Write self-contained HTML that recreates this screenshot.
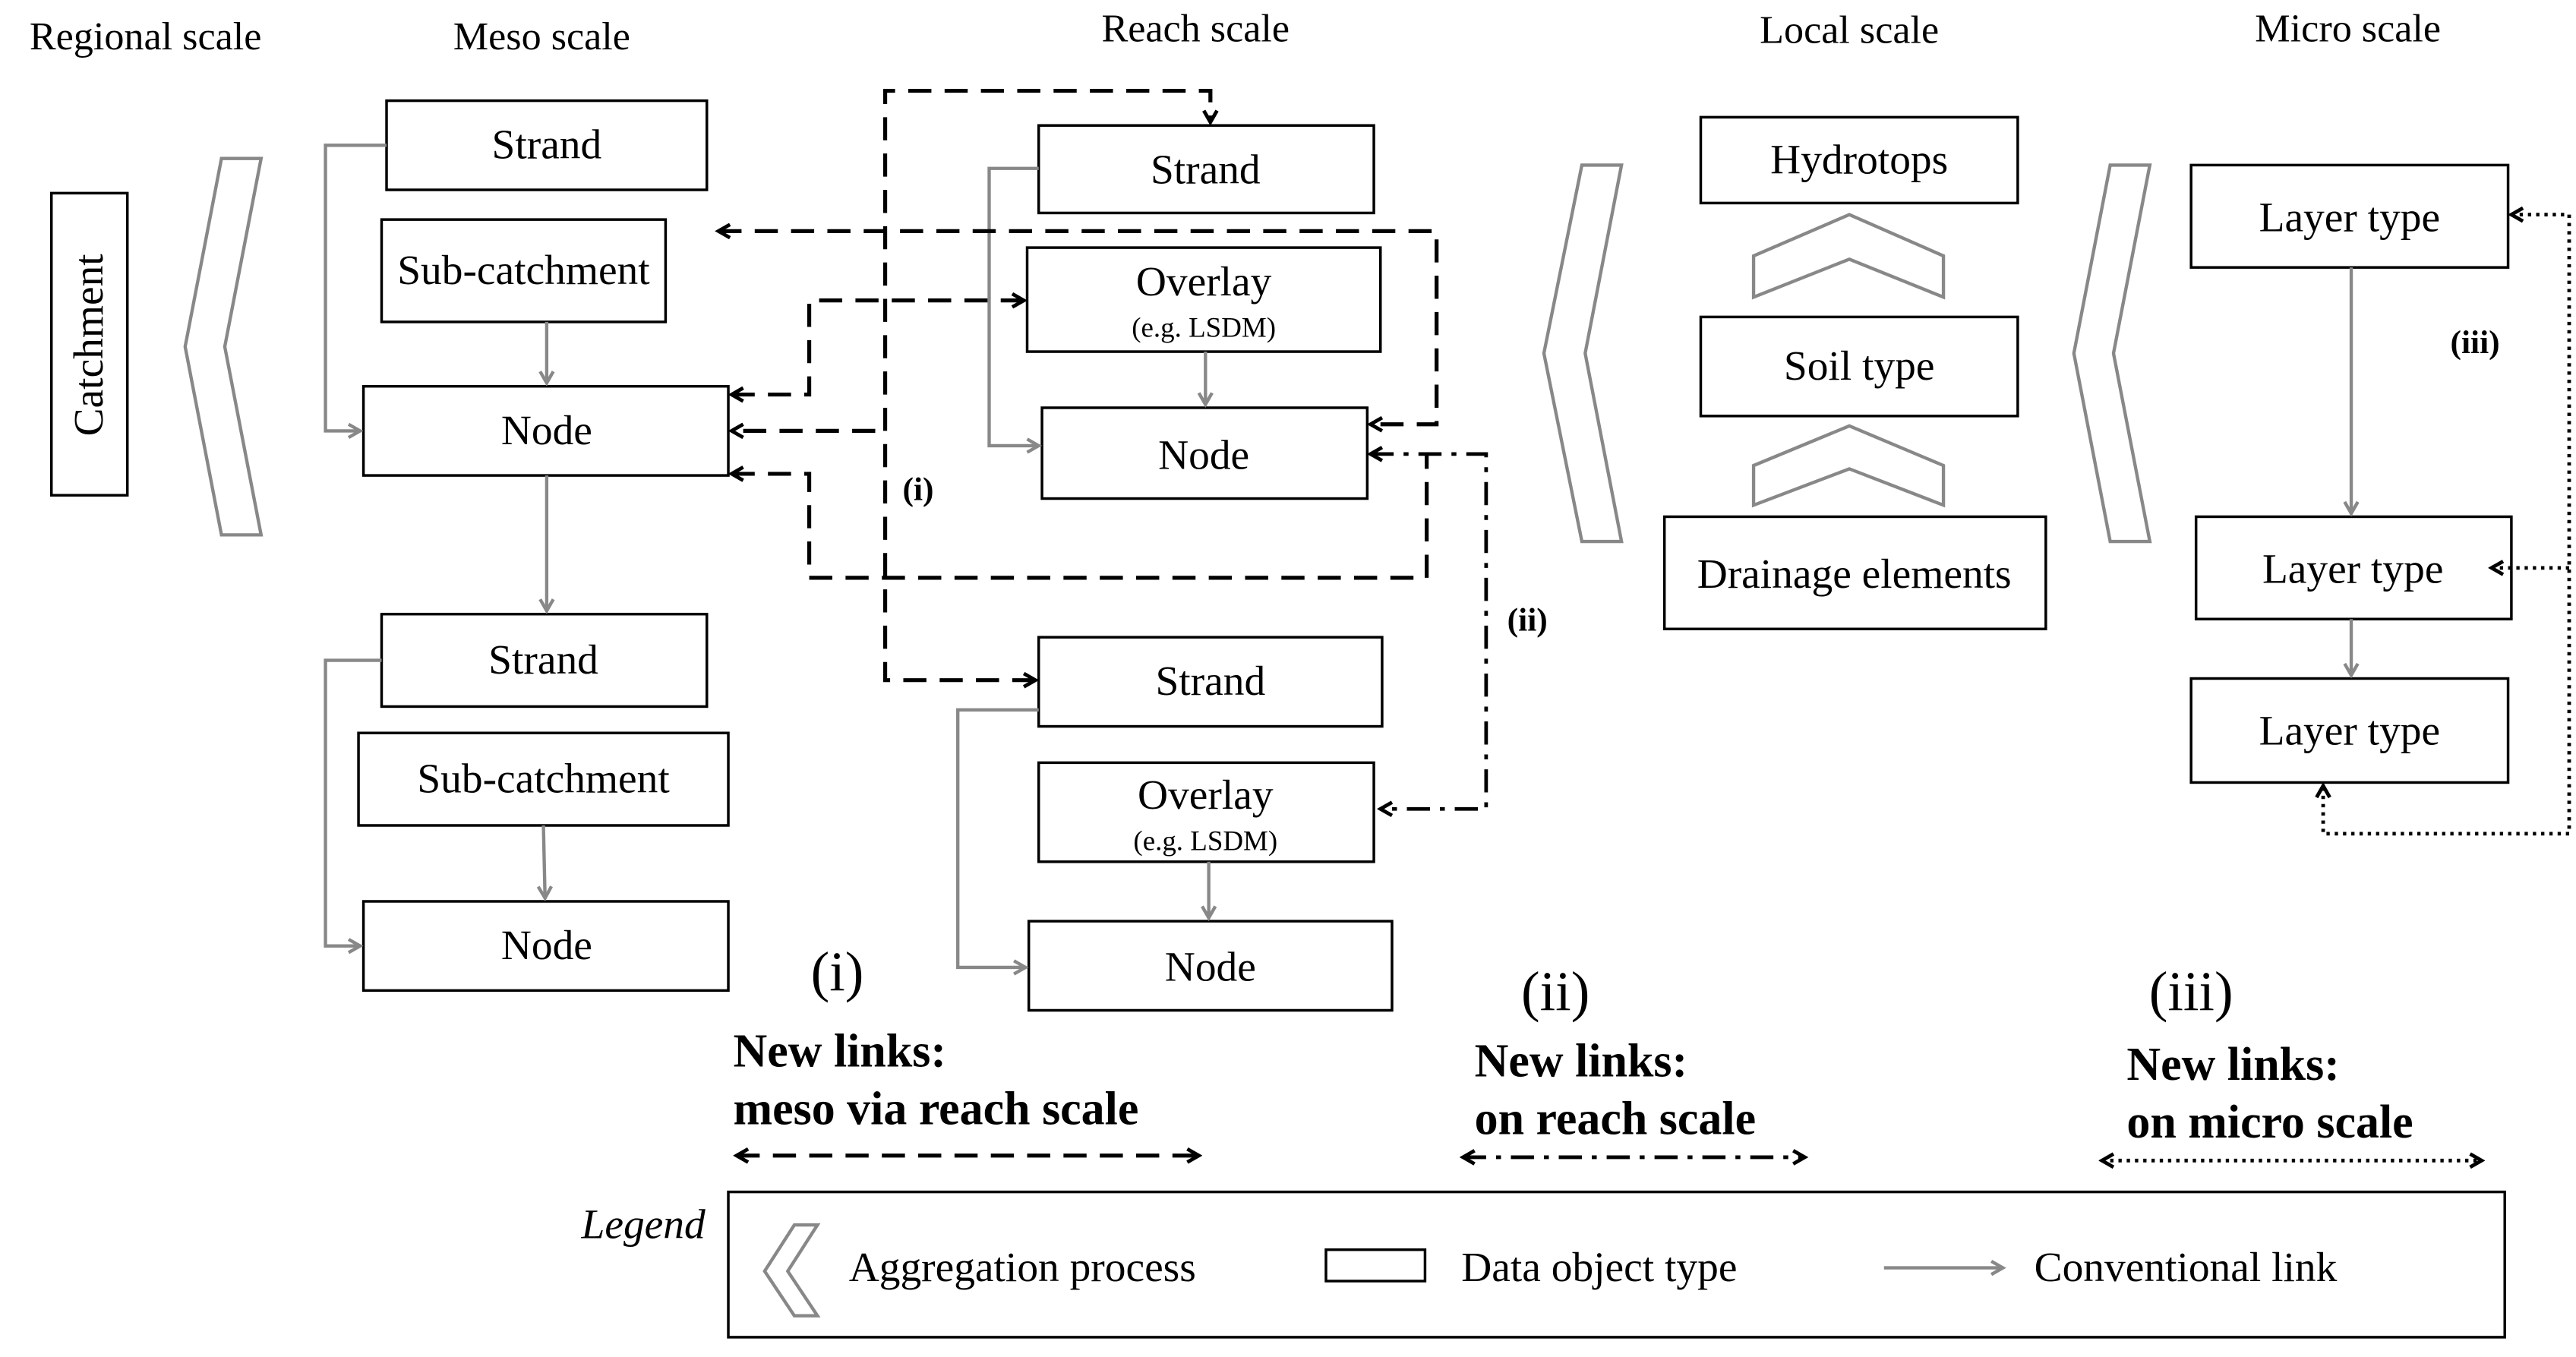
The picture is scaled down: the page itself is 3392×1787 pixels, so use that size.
<!DOCTYPE html>
<html><head><meta charset="utf-8"><style>html,body{margin:0;padding:0;background:#fff}svg{display:block}</style></head><body>
<svg width="3392" height="1787" viewBox="0 0 1560 822" xmlns="http://www.w3.org/2000/svg" font-family="'Liberation Serif', serif">
<defs>
<marker id="ag" markerWidth="10" markerHeight="10" refX="8" refY="5" orient="auto" markerUnits="userSpaceOnUse"><path d="M1,1 L8,5 L1,9" fill="none" stroke="#888" stroke-width="2"/></marker>
<marker id="ab" markerWidth="10" markerHeight="10" refX="8" refY="5" orient="auto-start-reverse" markerUnits="userSpaceOnUse"><path d="M1,1 L8,5 L1,9" fill="none" stroke="#000" stroke-width="2.2"/></marker>
</defs>
<rect width="1560" height="822" fill="#fff"/>
<g font-size="24" text-anchor="middle" fill="#000">
<text x="88" y="30">Regional scale</text>
<text x="328" y="30">Meso scale</text>
<text x="724" y="25">Reach scale</text>
<text x="1120" y="26">Local scale</text>
<text x="1422" y="25">Micro scale</text>
</g>
<g fill="#fff" stroke="#000" stroke-width="1.6">
<rect x="31" y="117" width="46" height="183"/>
<rect x="234" y="61" width="194" height="54"/>
<rect x="231" y="133" width="172" height="62"/>
<rect x="220" y="234" width="221" height="54"/>
<rect x="231" y="372" width="197" height="56"/>
<rect x="217" y="444" width="224" height="56"/>
<rect x="220" y="546" width="221" height="54"/>
<rect x="629" y="76" width="203" height="53"/>
<rect x="622" y="150" width="214" height="63"/>
<rect x="631" y="247" width="197" height="55"/>
<rect x="629" y="386" width="208" height="54"/>
<rect x="629" y="462" width="203" height="60"/>
<rect x="623" y="558" width="220" height="54"/>
<rect x="1030" y="71" width="192" height="52"/>
<rect x="1030" y="192" width="192" height="60"/>
<rect x="1008" y="313" width="231" height="68"/>
<rect x="1327" y="100" width="192" height="62"/>
<rect x="1330" y="313" width="191" height="62"/>
<rect x="1327" y="411" width="192" height="63"/>
<rect x="441" y="722" width="1076" height="88"/>
<rect x="803" y="757" width="60" height="19"/>
</g>
<g fill="#fff" stroke="#888" stroke-width="2">
<polygon points="134,96 158,96 136,210 158,324 134,324 112,210"/>
<polygon points="958,100 982,100 960,214 982,328 958,328 935,214"/>
<polygon points="1278,100 1302,100 1280,214 1302,328 1278,328 1256,214"/>
<polygon points="1062,155 1120,130 1177,155 1177,180 1120,157 1062,180"/>
<polygon points="1062,282 1120,258 1177,282 1177,306 1120,284 1062,306"/>
<polygon points="481,742 495,742 477,770 495,797 481,797 463,770"/>
</g>
<g fill="none" stroke="#888" stroke-width="2">
<path d="M234,88 H197 V261 H218" marker-end="url(#ag)"/>
<path d="M331,195 V232" marker-end="url(#ag)"/>
<path d="M331,288 V370" marker-end="url(#ag)"/>
<path d="M231,400 H197 V573 H218" marker-end="url(#ag)"/>
<path d="M329,500 L330,544" marker-end="url(#ag)"/>
<path d="M629,102 H599 V270 H629" marker-end="url(#ag)"/>
<path d="M730,213 V245" marker-end="url(#ag)"/>
<path d="M629,430 H580 V586 H621" marker-end="url(#ag)"/>
<path d="M732,522 V556" marker-end="url(#ag)"/>
<path d="M1424,162 V311" marker-end="url(#ag)"/>
<path d="M1424,375 V409" marker-end="url(#ag)"/>
<path d="M1141,768 H1213" marker-end="url(#ag)"/>
</g>
<g fill="none" stroke="#000" stroke-width="2.4" stroke-dasharray="14,8">
<path d="M627,412 H536 V55 H733 V74" marker-start="url(#ab)" marker-end="url(#ab)"/>
<path d="M530,261 H443" marker-end="url(#ab)"/>
<path d="M443,239 H490 V182 H620" marker-start="url(#ab)" marker-end="url(#ab)"/>
<path d="M435,140 H870 V257 H830" marker-start="url(#ab)" marker-end="url(#ab)"/>
<path d="M443,287 H490 V350 H864 V275"  marker-start="url(#ab)"/>
<path d="M446,700 H726" marker-start="url(#ab)" marker-end="url(#ab)"/>
</g>
<g fill="none" stroke="#000" stroke-width="2.2" stroke-dasharray="14,6,3,6">
<path d="M830,275 H900 V490 H836" marker-start="url(#ab)" marker-end="url(#ab)"/>
<path d="M886,701 H1093" marker-start="url(#ab)" marker-end="url(#ab)"/>
</g>
<g fill="none" stroke="#000" stroke-width="2.2" stroke-dasharray="2,3">
<path d="M1521,130 H1556 V505 H1407 V476" marker-start="url(#ab)" marker-end="url(#ab)"/>
<path d="M1509,344 H1556" marker-start="url(#ab)"/>
<path d="M1273,703 H1503" marker-start="url(#ab)" marker-end="url(#ab)"/>
</g>
<g font-size="25.5" text-anchor="middle" fill="#000">
<text transform="translate(62,209) rotate(-90)">Catchment</text>
<text x="331" y="96">Strand</text>
<text x="317" y="172">Sub-catchment</text>
<text x="331" y="269">Node</text>
<text x="329" y="408">Strand</text>
<text x="329" y="480">Sub-catchment</text>
<text x="331" y="581">Node</text>
<text x="730" y="111">Strand</text>
<text x="729" y="179">Overlay</text>
<text x="729" y="204" font-size="17">(e.g. LSDM)</text>
<text x="729" y="284">Node</text>
<text x="733" y="421">Strand</text>
<text x="730" y="490">Overlay</text>
<text x="730" y="515" font-size="17">(e.g. LSDM)</text>
<text x="733" y="594">Node</text>
<text x="1126" y="105">Hydrotops</text>
<text x="1126" y="230">Soil type</text>
<text x="1123" y="356">Drainage elements</text>
<text x="1423" y="140">Layer type</text>
<text x="1425" y="353">Layer type</text>
<text x="1423" y="451">Layer type</text>
<text x="556" y="303" font-size="20" font-weight="bold">(i)</text>
<text x="925" y="382" font-size="20" font-weight="bold">(ii)</text>
<text x="1499" y="214" font-size="20" font-weight="bold">(iii)</text>
<text x="507" y="600" font-size="34">(i)</text>
<text x="942" y="612" font-size="34">(ii)</text>
<text x="1327" y="612" font-size="34">(iii)</text>
</g>
<g font-size="28.5" font-weight="bold" fill="#000">
<text x="444" y="646">New links:</text>
<text x="444" y="681">meso via reach scale</text>
<text x="893" y="652">New links:</text>
<text x="893" y="687">on reach scale</text>
<text x="1288" y="654">New links:</text>
<text x="1288" y="689">on micro scale</text>
</g>
<g font-size="25.5" fill="#000">
<text x="352" y="750" font-style="italic">Legend</text>
<text x="514" y="776">Aggregation process</text>
<text x="885" y="776">Data object type</text>
<text x="1232" y="776">Conventional link</text>
</g>
</svg>
</body></html>
